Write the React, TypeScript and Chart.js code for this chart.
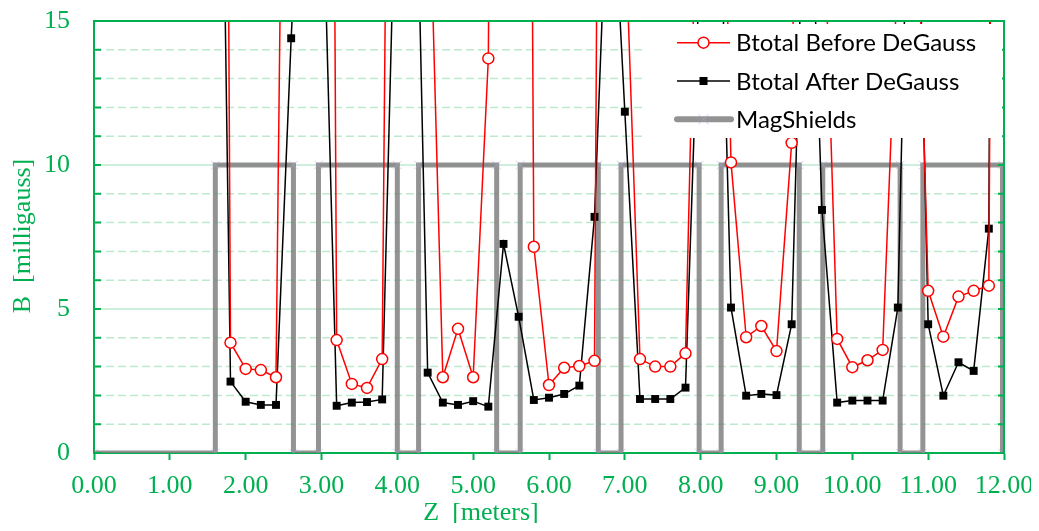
import { useEffect, useRef } from "react";
import { Chart, registerables } from "chart.js";

Chart.register(...registerables);

// ---- data ----
const zPositions = [
  1.6, 1.8, 2.0, 2.2, 2.4, 2.6, 2.8, 3.0, 3.2, 3.4, 3.6, 3.8, 4.0, 4.2, 4.4, 4.6, 4.8, 5.0,
  5.2, 5.4, 5.6, 5.8, 6.0, 6.2, 6.4, 6.6, 6.8, 7.0, 7.2, 7.4, 7.6, 7.8, 8.0, 8.2, 8.4, 8.6,
  8.8, 9.0, 9.2, 9.4, 9.6, 9.8, 10.0, 10.2, 10.4, 10.6, 10.8, 11.0, 11.2, 11.4, 11.6, 11.8, 12.0,
];

const btotalBefore = [
  100, 3.83, 2.92, 2.88, 2.63, 50, 70, 100, 3.92, 2.4, 2.26, 3.26, 63, 60, 22, 2.63, 4.31, 2.63,
  13.7, 90, 100, 7.16, 2.36, 2.96, 3.02, 3.2, 90, 18.6, 3.26, 3.0, 3.0, 3.46, 26, 33, 10.09, 4.02,
  4.41, 3.54, 10.77, 55, 21, 3.96, 2.98, 3.22, 3.58, 17, 25, 5.63, 4.04, 5.43, 5.63, 5.81, 100,
];

const btotalAfter = [
  39, 2.48, 1.78, 1.67, 1.67, 14.4, 25, 21.5, 1.64, 1.75, 1.77, 1.86, 22.6, 27, 2.79, 1.75, 1.67, 1.8,
  1.61, 7.26, 4.73, 1.84, 1.92, 2.05, 2.34, 8.2, 22, 11.85, 1.875, 1.875, 1.875, 2.27, 18, 25, 5.05, 1.99,
  2.05, 2.01, 4.47, 24, 8.44, 1.75, 1.82, 1.82, 1.82, 5.05, 28, 4.47, 1.99, 3.15, 2.85, 7.79, 110,
];

const shieldZ = [
  0, 1.6, 1.6, 2.63, 2.63, 2.96, 2.96, 4.0, 4.0, 4.28, 4.28, 5.31, 5.31, 5.62, 5.62, 6.65, 6.65,
  6.95, 6.95, 7.98, 7.98, 8.27, 8.27, 9.3, 9.3, 9.61, 9.61, 10.63, 10.63, 10.93, 10.93, 11.98, 11.98,
];
const shieldB = [
  0, 0, 10, 10, 0, 0, 10, 10, 0, 0, 10, 10, 0, 0, 10, 10, 0,
  0, 10, 10, 0, 0, 10, 10, 0, 0, 10, 10, 0, 0, 10, 10, 0,
];

const seriesNames = ["Btotal Before DeGauss", "Btotal After DeGauss", "MagShields"];
const xAxisTitle = "Z  [meters]";
const yAxisTitle = "B  [milligauss]";

// ---- styles ----
const GREEN = "#00B050";
const GRID = "#BDEACF";
const SERIF = "'Liberation Serif', 'Times New Roman', serif";
const SHIELD_GREY = "rgba(128,128,128,0.85)";
const SHIELD_MARK = "rgba(175,165,220,0.55)";

const decorPlugin = {
  id: "decor",
  beforeDatasetsDraw(chart: any) {
    const { ctx, chartArea: a, scales } = chart;
    const y = scales.y;
    ctx.save();
    ctx.lineWidth = 1.5;
    ctx.strokeStyle = GRID;
    y.ticks.forEach((t: any) => {
      const v = t.value;
      if (v <= 0 || v >= 15) return;
      const py = y.getPixelForValue(v);
      ctx.setLineDash(v % 5 === 0 ? [] : [8, 4]);
      ctx.beginPath();
      ctx.moveTo(a.left, py);
      ctx.lineTo(a.right, py);
      ctx.stroke();
    });
    ctx.restore();
  },
  afterDatasetsDraw(chart: any) {
    const { ctx, chartArea: a, scales } = chart;
    const y = scales.y;
    ctx.save();
    // inward ticks on left and right
    ctx.strokeStyle = GREEN;
    ctx.lineWidth = 2;
    ctx.setLineDash([]);
    y.ticks.forEach((t: any) => {
      const py = y.getPixelForValue(t.value);
      ctx.beginPath();
      ctx.moveTo(a.left, py);
      ctx.lineTo(a.left + 7, py);
      ctx.moveTo(a.right, py);
      ctx.lineTo(a.right - 6, py);
      ctx.stroke();
    });
    // frame top & right
    ctx.beginPath();
    ctx.moveTo(a.left, a.top);
    ctx.lineTo(a.right, a.top);
    ctx.lineTo(a.right, a.bottom);
    ctx.stroke();

    // legend
    const bx = a.right - 359;
    const by = a.top + 3;
    ctx.fillStyle = "#ffffff";
    ctx.fillRect(bx, by, 357, 114);
    const lx0 = bx + 32;
    const lx1 = bx + 85;
    const mx = (lx0 + lx1) / 2;
    const tx = bx + 91;
    ctx.font = "24px Lato, 'Noto Sans', sans-serif";
    ctx.textBaseline = "middle";
    ctx.textAlign = "left";
    seriesNames.forEach((name, i) => {
      const cy = by + 18.7 + i * 38.3;
      ctx.save();
      if (i === 0) {
        ctx.strokeStyle = "#FF0000";
        ctx.lineWidth = 1.5;
        ctx.beginPath();
        ctx.moveTo(lx0, cy);
        ctx.lineTo(lx1, cy);
        ctx.stroke();
        ctx.fillStyle = "#fff";
        ctx.beginPath();
        ctx.arc(mx, cy, 5.5, 0, Math.PI * 2);
        ctx.fill();
        ctx.stroke();
      } else if (i === 1) {
        ctx.strokeStyle = "#000";
        ctx.lineWidth = 1.5;
        ctx.beginPath();
        ctx.moveTo(lx0, cy);
        ctx.lineTo(lx1, cy);
        ctx.stroke();
        ctx.fillStyle = "#000";
        ctx.fillRect(mx - 4, cy - 4, 8, 8);
      } else {
        ctx.strokeStyle = SHIELD_GREY;
        ctx.lineWidth = 6;
        ctx.lineCap = "round";
        ctx.beginPath();
        ctx.moveTo(lx0, cy);
        ctx.lineTo(lx1 + 1, cy);
        ctx.stroke();
        ctx.strokeStyle = SHIELD_MARK;
        ctx.lineWidth = 1;
        ctx.lineCap = "butt";
        ctx.beginPath();
        ctx.moveTo(mx - 5, cy - 5);
        ctx.lineTo(mx + 5, cy + 5);
        ctx.moveTo(mx - 5, cy + 5);
        ctx.lineTo(mx + 5, cy - 5);
        ctx.stroke();
      }
      ctx.restore();
      ctx.fillStyle = "#000";
      ctx.fillText(name, tx, cy + 1);
    });

    // axis titles
    ctx.fillStyle = GREEN;
    ctx.font = `26px ${SERIF}`;
    ctx.textAlign = "center";
    ctx.textBaseline = "alphabetic";
    ctx.fillText(xAxisTitle, 473, 512);
    ctx.textBaseline = "middle";
    ctx.translate(15, (a.top + a.bottom) / 2 - 1);
    ctx.rotate(-Math.PI / 2);
    ctx.fillText(yAxisTitle, 0, 0);
    ctx.restore();
  },
};

export default function App() {
  const ref = useRef<HTMLCanvasElement | null>(null);

  useEffect(() => {
    if (!ref.current) return;
    const before = zPositions.map((z, i) => ({ x: z, y: btotalBefore[i] }));
    const after = zPositions.map((z, i) => ({ x: z, y: btotalAfter[i] }));
    const shields = shieldZ.map((z, i) => ({ x: z, y: shieldB[i] }));

    const chart = new Chart(ref.current, {
      type: "line",
      data: {
        datasets: [
          {
            label: seriesNames[0],
            data: before,
            borderColor: "#FF0000",
            borderWidth: 1.5,
            pointStyle: "circle",
            pointRadius: 5.5,
            pointBorderColor: "#FF0000",
            pointBackgroundColor: "#FFFFFF",
            pointBorderWidth: 1.5,
            tension: 0,
          },
          {
            label: seriesNames[1],
            data: after,
            borderColor: "#000000",
            borderWidth: 1.5,
            pointStyle: "rect",
            pointRadius: 5.6,
            pointBorderColor: "#000000",
            pointBackgroundColor: "#000000",
            pointBorderWidth: 0,
            tension: 0,
          },
          {
            label: seriesNames[2],
            data: shields,
            borderColor: SHIELD_GREY,
            borderWidth: 5,
            pointStyle: "crossRot",
            pointRadius: 6,
            pointBorderColor: SHIELD_MARK,
            pointBorderWidth: 1,
            tension: 0,
          },
        ],
      } as any,
      options: {
        animation: false,
        responsive: false,
        layout: { padding: { left: 0, right: 35, top: 13, bottom: 0 } },
        plugins: { legend: { display: false }, tooltip: { enabled: false } },
        scales: {
          x: {
            type: "linear",
            min: 0,
            max: 12,
            ticks: {
              stepSize: 1,
              autoSkip: false,
              maxRotation: 0,
              color: GREEN,
              padding: 11,
              font: { family: SERIF, size: 26, lineHeight: 1.2 },
              callback: (v: any) => Number(v).toFixed(2),
            },
            grid: {
              drawOnChartArea: false,
              drawTicks: true,
              tickLength: 7,
              tickColor: GREEN,
              tickWidth: 2,
            },
            border: { color: GREEN, width: 2 },
            afterFit: (s: any) => {
              s.height = 70;
              s.paddingLeft = 0;
              s.paddingRight = 0;
            },
          },
          y: {
            type: "linear",
            min: 0,
            max: 15,
            ticks: {
              stepSize: 1,
              autoSkip: false,
              color: GREEN,
              padding: 24,
              font: { family: SERIF, size: 26, lineHeight: 1 },
              callback: (v: any) => (Number(v) % 5 === 0 ? String(v) : ""),
            },
            grid: { display: false, drawTicks: false },
            border: { color: GREEN, width: 2 },
            afterFit: (s: any) => {
              s.width = 86;
              s.paddingTop = 0;
              s.paddingBottom = 0;
            },
          },
        },
      } as any,
      plugins: [decorPlugin],
    });
    return () => chart.destroy();
  }, []);

  return (
    <div style={{ width: 1031, height: 515 }}>
      <canvas ref={ref} width={1031} height={515} style={{ display: "block" }} />
    </div>
  );
}
